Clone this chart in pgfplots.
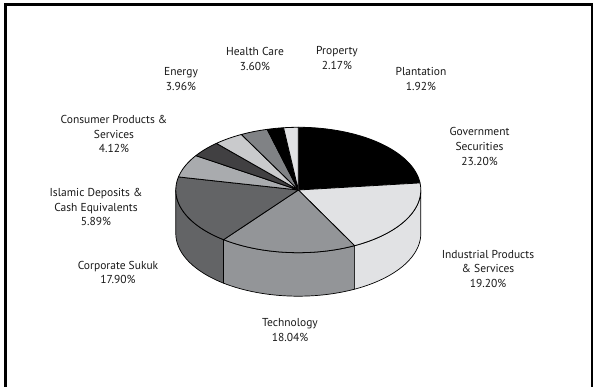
\documentclass[border=0pt]{standalone}
\usepackage{pgfplots}
\usepackage{pgfplotstable}
\usepackage{fontspec}
\pgfplotsset{compat=1.18}
\setmainfont{PT Sans}

\definecolor{sliceA}{HTML}{000000}
\definecolor{sliceB}{HTML}{E1E2E4}
\definecolor{sliceC}{HTML}{939598}
\definecolor{sliceD}{HTML}{636466}
\definecolor{sliceE}{HTML}{A9ABAE}
\definecolor{sliceF}{HTML}{414042}
\definecolor{sliceG}{HTML}{C9CACC}
\definecolor{sliceH}{HTML}{808285}

% Portfolio shares in percent, clockwise from twelve o'clock
\pgfplotstableread{
share colour
23.20 sliceA
19.20 sliceB
18.04 sliceC
17.90 sliceD
5.89  sliceE
4.12  sliceF
3.96  sliceG
3.60  sliceH
2.17  sliceA
1.92  sliceB
}\shares

\def\rx{122.5}
\def\ry{62.7}
\def\depth{43.5}

% Appends the rim points from angle #1 to #2 at height #3 to \pts
\newcommand\addrim[3]{%
  \pgfmathtruncatemacro\nsteps{max(1,ceil(abs(#2-#1)/2))}%
  \foreach \k in {0,...,\nsteps}{%
    \pgfmathsetmacro\ang{#1+(#2-#1)*\k/\nsteps}%
    \pgfmathsetmacro\px{\rx*sin(\ang)}%
    \pgfmathsetmacro\py{\ry*cos(\ang)+#3}%
    \xdef\pts{\pts (\px,\py)}%
  }%
}

\begin{document}
\begin{tikzpicture}
\begin{axis}[
  scale only axis, width=593pt, height=387pt,
  xmin=-298.3, xmax=294.7, ymin=-197, ymax=190,
  hide axis, clip=false,
  every axis plot/.append style={line join=round},
]
% Full page area
\path[use as bounding box] (axis cs:-298.3,-197) rectangle (axis cs:294.7,190);
% Outer frame, open at the lower edge
\draw[line width=2.2pt,line cap=butt]
  (axis cs:-292.9,-197) -- (axis cs:-292.9,185.4) -- (axis cs:293.6,185.4) -- (axis cs:293.6,-197);

% Side walls of the front slices
\gdef\cum{0}
\foreach \i in {0,...,9}{%
  \pgfplotstablegetelem{\i}{share}\of\shares \xdef\val{\pgfplotsretval}%
  \pgfplotstablegetelem{\i}{colour}\of\shares \xdef\col{\pgfplotsretval}%
  \pgfmathsetmacro\aS{\cum*3.6}%
  \pgfmathsetmacro\aE{(\cum+\val)*3.6}%
  \pgfmathsetmacro\wS{max(\aS,90)}%
  \pgfmathsetmacro\wE{min(\aE,270)}%
  \pgfmathtruncatemacro\vis{\wS<\wE ? 1 : 0}%
  \ifnum\vis=1
    \gdef\pts{}%
    \addrim{\wS}{\wE}{0}%
    \addrim{\wE}{\wS}{-\depth}%
    \edef\temp{\noexpand\addplot[draw=black,line width=0.7pt,fill=\col] coordinates {\pts} -- cycle;}%
    \temp
  \fi
  \pgfmathsetmacro\nc{\cum+\val}\xdef\cum{\nc}%
}

% Top faces
\gdef\cum{0}
\foreach \i in {0,...,9}{%
  \pgfplotstablegetelem{\i}{share}\of\shares \xdef\val{\pgfplotsretval}%
  \pgfplotstablegetelem{\i}{colour}\of\shares \xdef\col{\pgfplotsretval}%
  \pgfmathsetmacro\aS{\cum*3.6}%
  \pgfmathsetmacro\aE{(\cum+\val)*3.6}%
  \gdef\pts{(0,0)}%
  \addrim{\aS}{\aE}{0}%
  \edef\temp{\noexpand\addplot[draw=black,line width=0.8pt,fill=\col] coordinates {\pts} -- cycle;}%
  \temp
  \pgfmathsetmacro\nc{\cum+\val}\xdef\cum{\nc}%
}

% Slice labels
\tikzset{lab/.style={align=center,font=\fontsize{11.5}{14.9}\selectfont,text=black!90,inner sep=0pt,anchor=center}}
\node[lab] at (axis cs:181.2,43.5) {Government\\Securities\\23.20\%};
\node[lab] at (axis cs:189.7,-79) {Industrial Products\\\& Services\\19.20\%};
\node[lab] at (axis cs:-8.3,-140) {Technology\\18.04\%};
\node[lab] at (axis cs:-180.3,-82.5) {Corporate Sukuk\\17.90\%};
\node[lab] at (axis cs:-202.3,-17) {Islamic Deposits \&\\Cash Equivalents\\5.89\%};
\node[lab] at (axis cs:-184.3,56) {Consumer Products \&\\Services\\4.12\%};
\node[lab] at (axis cs:-117.3,111) {Energy\\3.96\%};
\node[lab] at (axis cs:-43.3,131) {Health Care\\3.60\%};
\node[lab] at (axis cs:38.7,132) {Property\\2.17\%};
\node[lab] at (axis cs:122.7,111) {Plantation\\1.92\%};
\end{axis}
\end{tikzpicture}
\end{document}
